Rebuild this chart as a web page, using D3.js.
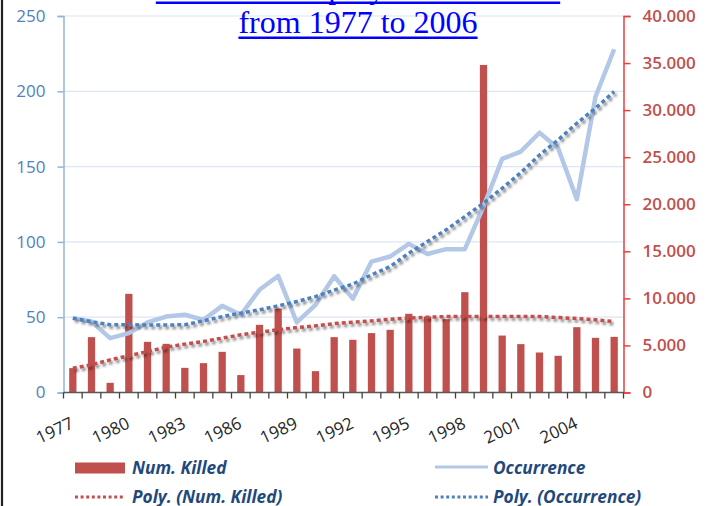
<!DOCTYPE html>
<html>
<head>
<meta charset="utf-8">
<script src="https://cdn.jsdelivr.net/npm/d3@7"></script>
<style>
  body { margin: 0; background: #fff; }
  svg { display: block; }
</style>
</head>
<body>
<div id="chart"></div>
<script>
// chart data
var years = d3.range(1977, 2007);
var yearLabels = [1977, 1980, 1983, 1986, 1989, 1992, 1995, 1998, 2001, 2004];
var killed = [2590, 5880, 1030, 10480, 5380, 5170, 2620, 3120, 4320, 1850,
              7190, 8920, 4670, 2270, 5880, 5600, 6310, 6660, 8360, 8070,
              7790, 10660, 34800, 6050, 5140, 4250, 3900, 6940, 5810, 5910];
var occurrence = [49.4, 47.1, 36.1, 39.4, 46.5, 50.4, 51.6, 48.2, 57.5, 51.6,
                  68.2, 77.4, 46.5, 58.2, 77.2, 62.3, 86.9, 90.3, 98.7, 92,
                  95.2, 95.2, 123.4, 155.1, 160, 172.5, 162.2, 128.3, 196.4, 227.9];
var polyKilled = [2590, 2940, 3470, 3900, 4350, 4820, 5140, 5420, 5780, 6130,
                  6410, 6660, 6900, 7080, 7320, 7470, 7610, 7790, 7900, 8000,
                  8070, 8070, 8070, 8070, 8070, 8070, 7960, 7860, 7720, 7540];
var polyOccurrence = [49.4, 47, 45, 45, 44.8, 44.8, 45, 47.6, 50.4, 52.7,
                      54.9, 57.5, 60.4, 63.7, 68, 72, 78.1, 83.6, 92.5, 100.2,
                      108, 116.8, 125.7, 135.6, 146, 157.7, 167.7, 178.8, 188.7, 199.8];
var leftTicks = [0, 50, 100, 150, 200, 250];
var rightTicks = [0, 5000, 10000, 15000, 20000, 25000, 30000, 35000, 40000];
var titleLines = ["numbers and polynomial trends", "from 1977 to 2006"];
var legendItems = ["Num. Killed", "Occurrence", "Poly. (Num. Killed)", "Poly. (Occurrence)"];

function drawChart() {
  var width = 715, height = 506;
  var plotLeft = 63.5, plotRight = 623.5, plotTop = 16, plotBottom = 392.5;

  var red = "#c0504d", blue = "#4f81bd", lightBlue = "#b3c8e7";

  var svg = d3.select("#chart").append("svg")
    .attr("width", width)
    .attr("height", height);

  var defs = svg.append("defs");
  var shadow = defs.append("filter").attr("id", "shadow")
    .attr("x", "-5%").attr("y", "-20%").attr("width", "115%").attr("height", "150%");
  shadow.append("feDropShadow")
    .attr("dx", 2).attr("dy", 2.5)
    .attr("stdDeviation", 1.2)
    .attr("flood-color", "#000")
    .attr("flood-opacity", 0.45);

  var x = d3.scaleBand().domain(years).range([plotLeft, plotRight])
    .paddingInner(0.61).paddingOuter(0.305);
  var yL = d3.scaleLinear().domain([0, 250]).range([plotBottom, plotTop]);
  var yR = d3.scaleLinear().domain([0, 40000]).range([plotBottom, plotTop]);
  var cx = function(d) { return x(d) + x.bandwidth() / 2; };

  var locale = d3.formatLocale({decimal: ",", thousands: ".", grouping: [3], currency: ["", ""]});
  var fmtR = locale.format(",");

  // left page border
  svg.append("line")
    .attr("x1", 2).attr("x2", 2).attr("y1", 0).attr("y2", height)
    .attr("stroke", "#222").attr("stroke-width", 2.2);

  // gridlines
  svg.append("g").selectAll("line")
    .data(leftTicks.filter(function(d) { return d > 0; }))
    .enter().append("line")
    .attr("x1", plotLeft).attr("x2", plotRight)
    .attr("y1", function(d) { return yL(d); })
    .attr("y2", function(d) { return yL(d); })
    .attr("stroke", "#dce6f4").attr("stroke-width", 1.2);

  // title, first line mostly cut off at the top like in the source
  var title = svg.append("g");
  titleLines.forEach(function(t, i) {
    var ty = -1.7 + i * 35;
    var txt = title.append("text")
      .attr("x", 358).attr("y", ty)
      .attr("text-anchor", "middle")
      .attr("font-family", "'Liberation Serif', 'Times New Roman', serif")
      .attr("font-size", 32)
      .attr("fill", "#0000ff")
      .text(t);
    var w = txt.node().getComputedTextLength();
    title.append("line")
      .attr("x1", 358 - w / 2).attr("x2", 358 + w / 2)
      .attr("y1", ty + 4.5).attr("y2", ty + 4.5)
      .attr("stroke", "#0000ff").attr("stroke-width", 2.5);
  });

  // bars
  svg.append("g").selectAll("rect")
    .data(years)
    .enter().append("rect")
    .attr("x", function(d) { return x(d); })
    .attr("width", x.bandwidth())
    .attr("y", function(d, i) { return yR(killed[i]); })
    .attr("height", function(d, i) { return plotBottom - yR(killed[i]); })
    .attr("fill", red);

  var lineL = d3.line().x(function(d, i) { return cx(years[i]); }).y(function(d) { return yL(d); });
  var lineR = d3.line().x(function(d, i) { return cx(years[i]); }).y(function(d) { return yR(d); });

  // occurrence line
  svg.append("path")
    .attr("d", lineL(occurrence))
    .attr("fill", "none")
    .attr("stroke", lightBlue)
    .attr("stroke-width", 4.5)
    .attr("stroke-linejoin", "round");

  // polynomial trends
  svg.append("path")
    .attr("d", lineR(polyKilled))
    .attr("fill", "none")
    .attr("stroke", red)
    .attr("stroke-width", 3.5)
    .attr("stroke-dasharray", "4,3")
    .attr("filter", "url(#shadow)");

  svg.append("path")
    .attr("d", lineL(polyOccurrence))
    .attr("fill", "none")
    .attr("stroke", blue)
    .attr("stroke-width", 3.5)
    .attr("stroke-dasharray", "4,3")
    .attr("filter", "url(#shadow)");

  // left axis
  var axL = svg.append("g")
    .attr("transform", "translate(" + plotLeft + ",0)")
    .call(d3.axisLeft(yL).tickValues(leftTicks).tickSize(6).tickPadding(12));
  axL.select(".domain").attr("stroke", "#95b3d7").attr("stroke-width", 1.5);
  axL.selectAll(".tick line").attr("stroke", "#95b3d7").attr("stroke-width", 1.5);
  axL.selectAll(".tick text")
    .attr("font-family", "'Open Sans', sans-serif")
    .attr("font-size", 17)
    .attr("fill", blue);

  // right axis
  var axR = svg.append("g")
    .attr("transform", "translate(" + plotRight + ",0)")
    .call(d3.axisRight(yR).tickValues(rightTicks).tickSize(7).tickPadding(12).tickFormat(fmtR));
  axR.select(".domain").attr("stroke", "#e8403c").attr("stroke-width", 1.5);
  axR.selectAll(".tick line").attr("stroke", "#e8403c").attr("stroke-width", 1.5);
  axR.selectAll(".tick text")
    .attr("font-family", "'Open Sans', sans-serif")
    .attr("font-size", 17)
    .attr("font-weight", 600)
    .attr("fill", red);

  // x axis
  var axX = svg.append("g");
  axX.append("line")
    .attr("x1", plotLeft).attr("x2", plotRight)
    .attr("y1", plotBottom).attr("y2", plotBottom)
    .attr("stroke", "#595959").attr("stroke-width", 1.3);
  var bounds = years.map(function(d) { return cx(d) - x.step() / 2; }).concat([plotRight]);
  axX.selectAll("line.tk")
    .data(bounds)
    .enter().append("line")
    .attr("class", "tk")
    .attr("x1", function(d) { return d; }).attr("x2", function(d) { return d; })
    .attr("y1", plotBottom).attr("y2", plotBottom + 6)
    .attr("stroke", "#404040").attr("stroke-width", 1.3);
  axX.selectAll("text")
    .data(yearLabels)
    .enter().append("text")
    .attr("transform", function(d) { return "translate(" + (cx(d) + 2) + "," + (plotBottom + 35) + ") rotate(-25)"; })
    .attr("text-anchor", "end")
    .attr("font-family", "'Open Sans', sans-serif")
    .attr("font-size", 17)
    .attr("fill", "#262626")
    .text(function(d) { return d; });

  // legend
  var lg = svg.append("g")
    .attr("font-family", "'Open Sans', sans-serif")
    .attr("font-size", 17.3)
    .attr("font-weight", 700)
    .attr("font-style", "italic")
    .attr("fill", "#1f497d");

  var lgX = [75, 435], lgY = [468, 497];
  lg.append("rect")
    .attr("x", lgX[0]).attr("y", lgY[0] - 5.5).attr("width", 50).attr("height", 11)
    .attr("fill", red);
  lg.append("line")
    .attr("x1", lgX[1]).attr("x2", lgX[1] + 53).attr("y1", lgY[0] - 1).attr("y2", lgY[0] - 1)
    .attr("stroke", lightBlue).attr("stroke-width", 3);
  lg.append("line")
    .attr("x1", lgX[0]).attr("x2", lgX[0] + 50).attr("y1", lgY[1]).attr("y2", lgY[1])
    .attr("stroke", red).attr("stroke-width", 3).attr("stroke-dasharray", "3,2.6");
  lg.append("line")
    .attr("x1", lgX[1]).attr("x2", lgX[1] + 53).attr("y1", lgY[1]).attr("y2", lgY[1])
    .attr("stroke", blue).attr("stroke-width", 3).attr("stroke-dasharray", "3,2.6");

  legendItems.forEach(function(t, i) {
    lg.append("text")
      .attr("x", (i % 2 === 0 ? lgX[0] + 57 : lgX[1] + 58))
      .attr("y", lgY[Math.floor(i / 2)] + 5.5)
      .text(t);
  });
}

drawChart();
</script>
</body>
</html>
